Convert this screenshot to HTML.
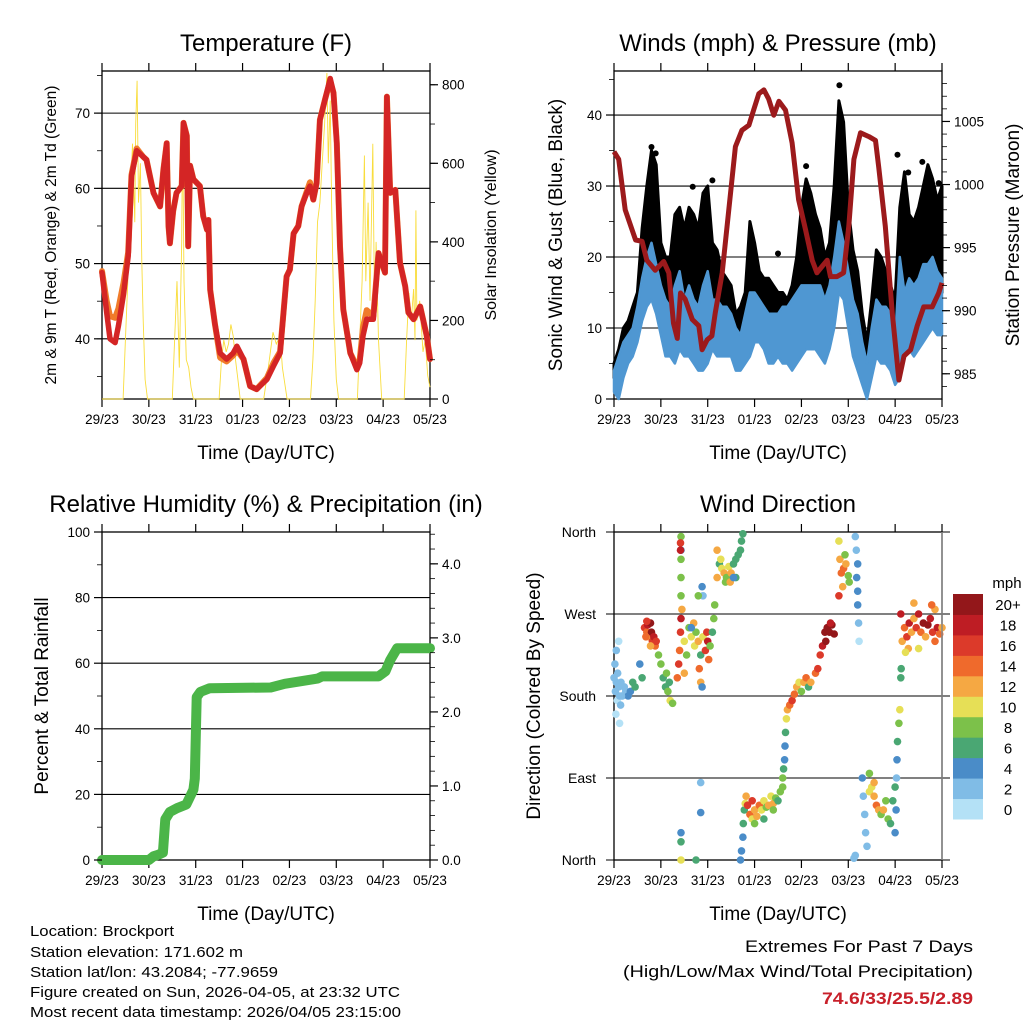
<!DOCTYPE html>
<html><head><meta charset="utf-8"><style>
html,body{margin:0;padding:0;background:#fff;}
svg{display:block;font-family:"Liberation Sans",sans-serif;}
</style></head><body>
<svg id="chart" width="1024" height="1024" viewBox="0 0 1024 1024" xmlns="http://www.w3.org/2000/svg">
<rect width="1024" height="1024" fill="#fff"/>
<g id="layer"></g>
<text x="30" y="936" font-size="15" textLength="144" lengthAdjust="spacingAndGlyphs">Location: Brockport</text>
<text x="30" y="957" font-size="15" textLength="213" lengthAdjust="spacingAndGlyphs">Station elevation: 171.602 m</text>
<text x="30" y="977" font-size="15" textLength="248" lengthAdjust="spacingAndGlyphs">Station lat/lon: 43.2084; -77.9659</text>
<text x="30" y="997" font-size="15" textLength="370" lengthAdjust="spacingAndGlyphs">Figure created on Sun, 2026-04-05, at 23:32 UTC</text>
<text x="30" y="1017" font-size="15" textLength="371" lengthAdjust="spacingAndGlyphs">Most recent data timestamp: 2026/04/05 23:15:00</text>
<text x="745" y="952" font-size="17" textLength="228" lengthAdjust="spacingAndGlyphs">Extremes For Past 7 Days</text>
<text x="623" y="977" font-size="17" textLength="350" lengthAdjust="spacingAndGlyphs">(High/Low/Max Wind/Total Precipitation)</text>
<text x="822" y="1004" font-size="17" font-weight="bold" fill="#c8202a" textLength="151" lengthAdjust="spacingAndGlyphs">74.6/33/25.5/2.89</text>
</svg>
<script>
// ---------- data ----------
const dayLabels=["29/23","30/23","31/23","01/23","02/23","03/23","04/23","05/23"];
const tempT=[0,0.1,0.17,0.28,0.35,0.46,0.56,0.63,0.74,0.88,0.95,1.1,1.24,1.31,1.38,1.42,1.45,1.52,1.59,1.7,1.74,1.81,1.84,1.88,1.95,2.09,2.16,2.24,2.27,2.31,2.41,2.52,2.66,2.8,2.88,3.02,3.16,3.3,3.52,3.66,3.8,3.94,4.01,4.09,4.19,4.26,4.37,4.44,4.51,4.58,4.65,4.76,4.87,4.94,5.01,5.08,5.15,5.3,5.44,5.5,5.57,5.65,5.79,5.9,6.04,6.08,6.15,6.26,6.36,6.47,6.54,6.65,6.79,6.93,7.0];
const temp2m=[48.8,43.5,40,39.5,41.7,46,51,61.6,65,64.2,63.8,59.4,57.6,62.5,66,55,52.7,57,59.4,60.3,68.7,67,52.3,63,61.2,60.3,56.3,54.5,55.8,46.5,42,38.1,37.3,38.1,39,37.3,33.7,33.3,34.6,36.4,38.1,48.3,49.2,54,55,57.6,59.4,60.3,58.5,60.7,69.1,71.8,74.6,72.7,66,52.3,43.9,38.1,35.9,36.8,40.4,42.6,42.6,51.4,48.8,72.2,59.4,59.8,50.1,47,43.5,42.6,44.3,40.4,37.3];
const temp9m=[49,45,43,42.8,44,47.5,51.5,61.8,65.3,64.2,63.8,59.4,57.6,62.5,66,55,52.7,57,59.4,60.3,68.7,67,52.3,63,61.2,60.3,56.3,54.5,55.8,46.5,42,37.5,37,37.8,38.5,37.3,33.7,33.3,34.8,36.8,38.3,48.3,49.2,54,55,57.6,59.6,60.8,58.5,60.7,69.1,71.8,74.3,72.7,66,52.3,43.9,38.1,36.3,37.2,41.5,43.8,43,51.4,48.8,72.2,59.4,59.8,50.1,47,43.5,42.6,44.3,40.4,37.3];
const solarT=[0,0.45,0.5,0.55,0.6,0.65,0.7,0.72,0.75,0.78,0.82,0.85,0.88,0.92,0.97,1.5,1.55,1.6,1.65,1.7,1.72,1.75,1.8,1.85,1.9,1.95,2.5,2.55,2.6,2.65,2.7,2.75,2.8,2.85,2.9,2.95,3.45,3.55,3.65,3.72,3.8,3.85,3.95,4.45,4.5,4.55,4.6,4.65,4.7,4.75,4.8,4.83,4.87,4.9,4.95,5.0,5.05,5.45,5.5,5.55,5.6,5.63,5.68,5.72,5.78,5.82,5.85,5.9,5.97,6.45,6.5,6.55,6.6,6.65,6.68,6.7,6.72,6.78,6.85,6.9,6.95,7.0];
const solar=[0,0,150,300,500,650,450,700,810,500,600,350,200,50,0,0,150,300,80,400,700,300,100,80,30,0,0,100,150,120,140,190,160,100,50,0,0,80,170,140,160,80,0,0,100,250,450,500,600,700,830,600,760,500,200,50,0,0,150,300,620,300,500,250,650,200,400,150,0,0,150,270,200,280,150,480,200,250,120,150,60,30];
const windT=[0,0.1,0.2,0.3,0.4,0.5,0.6,0.7,0.8,0.9,1.0,1.1,1.2,1.3,1.4,1.5,1.6,1.7,1.8,1.9,2.0,2.1,2.2,2.3,2.4,2.5,2.6,2.7,2.8,2.9,3.0,3.1,3.2,3.3,3.4,3.5,3.6,3.7,3.8,3.9,4.0,4.1,4.2,4.3,4.4,4.5,4.6,4.7,4.8,4.9,5.0,5.1,5.2,5.3,5.4,5.5,5.6,5.7,5.8,5.9,6.0,6.1,6.2,6.3,6.4,6.5,6.6,6.7,6.8,6.9,7.0];
const windLo=[1,0,3,5,6,8,11,13,14,12,9,6,6,5,7,6,6,5,4,4,5,7,6,6,6,6,4,4,5,6,8,8,7,5,5,6,5,5,4,5,6,7,7,7,6,5,7,10,15,14,10,6,4,2,0,3,6,5,5,4,2,3,6,7,6,7,8,9,10,9,9];
const windHi=[4,6,8,9,10,13,17,20,22,19,16,14,13,16,18,14,16,14,13,16,18,14,14,13,13,12,10,9,12,15,15,14,13,12,12,12,13,13,14,15,16,16,16,16,16,14,16,20,25,22,18,14,12,8,5,10,14,13,13,12,8,20,15,17,16,17,19,19,20,18,17];
const gustLo=[3,4,6,7,8,10,15,17,20,17,13,10,11,13,14,12,13,12,10,12,13,12,11,10,10,8,7,6,8,10,12,11,10,9,9,10,10,10,10,11,12,14,15,14,12,11,14,18,21,18,13,10,7,4,2,7,10,10,10,8,5,8,13,14,13,14,15,17,17,16,15];
const gustHi=[5,7,10,11,13,15,24,30,35,33,22,20,20,26,27,24,27,26,24,29,30,22,21,18,17,16,12,13,15,25,22,18,17,17,16,15,15,14,16,20,27,31,29,26,24,20,22,30,42,39,27,21,18,12,8,14,21,20,18,16,14,27,32,26,25,27,30,33,31,28,30];
const gustOutT=[0.8,0.89,1.68,2.1,3.5,4.1,4.81,6.05,6.28,6.58,6.93];
const gustOut=[35.5,34.6,29.9,30.8,20.5,32.8,44.2,34.4,31.9,33.4,30.4];
const presT=[0,0.1,0.24,0.46,0.6,0.7,0.88,1.06,1.17,1.27,1.35,1.42,1.52,1.67,1.81,1.88,1.99,2.09,2.16,2.31,2.45,2.59,2.73,2.88,2.98,3.09,3.2,3.3,3.41,3.52,3.66,3.8,3.94,4.09,4.23,4.33,4.44,4.55,4.62,4.76,4.9,5.01,5.12,5.26,5.44,5.58,5.65,5.79,5.94,6.08,6.19,6.33,6.47,6.61,6.79,6.93,7.0];
const pres=[1002.6,1002,998,995.6,995.5,994,993.2,993.9,993,989,987.8,991.4,990.9,989.3,988.8,986.9,987.7,988,989.8,993,998,1003,1004.3,1004.7,1005.9,1007.2,1007.5,1006.8,1005.5,1006.6,1005.9,1003.3,998.8,996.4,994,993,993.5,994,992.7,992.7,993,996.7,1002,1004.1,1003.8,1003.5,1001.4,996.7,989.8,984.5,986.4,986.9,988.8,990.3,990.3,991.4,992.2];
const rainT=[0,1.0,1.1,1.2,1.3,1.35,1.45,1.6,1.8,1.95,1.98,2.02,2.1,2.3,3.6,3.9,4.3,4.6,4.7,5.9,6.05,6.15,6.3,7.0];
const rain=[0,0,0.05,0.07,0.1,0.55,0.65,0.7,0.75,0.95,1.1,2.2,2.27,2.32,2.33,2.38,2.42,2.45,2.48,2.48,2.55,2.7,2.86,2.86];
const dirT=[0,0.02,0.03,0.05,0.07,0.08,0.1,0.12,0.12,0.15,0.18,0.22,0.25,0.3,0.35,0.4,0.45,0.55,0.6,0.04,0.1,0.16,0.05,0.14,
0.65,0.7,0.72,0.75,0.78,0.8,0.82,0.85,0.88,0.9,0.78,0.7,0.68,0.95,1.0,1.05,1.1,1.15,1.2,1.25,1.18,1.12,
1.35,1.38,1.4,1.42,1.43,1.45,1.43,1.43,1.43,1.43,1.43,1.42,1.42,1.43,1.43,1.43,1.5,1.55,1.5,
1.6,1.65,1.7,1.72,1.75,1.8,1.82,1.85,1.88,1.85,1.9,1.95,1.98,2.0,2.02,2.05,2.1,2.13,1.88,1.9,1.8,1.85,1.85,1.75,1.65,
2.15,2.2,2.25,2.3,2.35,2.4,2.45,2.5,2.55,2.6,2.65,2.7,2.72,2.75,2.28,2.38,2.48,2.6,2.2,2.55,
2.7,2.72,2.75,2.76,2.78,2.8,2.82,2.85,2.9,2.95,3.0,3.05,3.1,3.15,3.2,3.25,3.3,3.35,3.4,3.45,3.5,3.55,3.6,3.0,3.2,3.4,2.95,
3.6,3.62,3.64,3.65,3.66,3.68,3.7,3.75,3.8,3.85,3.9,3.95,4.0,4.05,4.1,4.15,4.2,4.3,4.35,4.4,4.45,4.5,4.55,4.6,4.65,4.7,4.52,4.62,
4.8,4.82,4.85,4.9,4.95,5.0,5.02,4.88,4.8,4.93,5.15,5.17,5.2,5.18,5.2,5.2,5.22,5.23,5.15,5.12,
5.3,5.32,5.35,5.37,5.4,5.45,5.5,5.55,5.6,5.65,5.7,5.75,5.8,5.85,5.9,5.95,6.0,5.55,5.45,6.0,6.02,6.03,6.04,6.05,6.08,6.1,
6.12,6.13,6.15,6.2,6.25,6.3,6.35,6.4,6.45,6.5,6.55,6.6,6.65,6.7,6.75,6.8,6.85,6.9,6.95,7.0,6.85,6.78,6.5,6.28,6.12,6.4,6.22];
const dirDeg=[200,215,185,195,175,205,190,180,150,195,180,190,185,180,185,195,190,215,200,160,240,180,230,170,
255,250,258,245,260,250,240,245,235,240,235,262,245,225,215,200,190,185,175,172,195,205,
200,215,230,250,265,275,290,310,330,340,355,348,340,20,30,0,240,225,205,
255,245,260,235,250,240,210,195,190,225,245,230,250,240,220,235,250,265,300,290,290,85,52,0,255,
280,310,325,320,315,310,322,315,325,330,335,340,350,358,330,305,305,310,340,310,
0,10,25,40,55,62,70,60,50,45,55,48,60,55,65,58,60,70,62,68,65,75,80,40,45,55,65,
90,100,110,125,140,155,165,170,175,182,190,195,185,195,200,190,195,205,210,225,235,250,255,250,258,248,240,260,
350,330,315,320,325,312,305,300,290,335,355,340,325,310,295,280,260,240,5,2,
90,70,50,30,15,75,80,70,60,55,50,55,65,45,40,65,80,85,95,30,55,90,110,130,150,165,
200,210,240,255,245,260,250,265,255,270,250,260,245,258,265,250,240,255,248,255,275,280,232,232,270,282,228];
const dirSpd=[2,2,2,2,1,2,2,2,1,3,3,3,3,4,5,6,6,5,6,1,1,3,2,2,
16,14,18,12,20,20,16,18,14,16,12,16,14,8,8,7,6,8,10,9,6,8,
14,16,14,16,18,12,8,8,8,4,8,16,18,6,4,10,10,8,12,
8,10,12,10,8,12,14,12,4,6,10,16,16,18,14,8,6,8,4,2,8,2,4,6,4,
8,12,6,10,12,8,10,12,6,6,6,6,6,6,10,8,12,6,12,4,
4,4,4,6,6,10,12,16,14,10,12,12,14,10,10,8,12,10,12,8,6,8,8,8,6,8,16,
8,6,4,4,6,10,12,14,16,14,12,10,8,12,14,6,12,14,16,16,18,20,20,20,20,20,20,18,
10,12,14,14,12,8,8,12,16,8,2,2,4,4,4,4,2,1,2,2,
4,2,2,2,2,10,10,12,14,12,8,12,8,8,6,6,6,12,8,4,4,2,4,6,8,10,
6,6,12,14,16,18,12,12,16,18,14,20,12,20,18,16,14,18,14,12,12,14,10,12,18,12,10];
const speedColors=["#b4e1f6","#80bce6","#4a8cc8","#4aa773","#7cc14a","#e6df56","#f5a843","#ef6a2c","#dc3a2a","#be1d24","#93171a"];
const speedLabels=["0","2","4","6","8","10","12","14","16","18","20+"];
const tempTicks=[40,50,60,70], solarTicks=[0,200,400,600,800];
const windTicks=[0,10,20,30,40], presTicks=[985,990,995,1000,1005];
const rhTicks=[0,20,40,60,80,100], rainTicks=[0,1,2,3,4];
const dirTicks=[0,90,180,270,360], dirNames=["North","East","South","West","North"];

// ---------- helpers ----------
const NS="http://www.w3.org/2000/svg";
const layer=document.getElementById('layer');
function mk(tag,attrs,parent){const e=document.createElementNS(NS,tag);for(const k in attrs)e.setAttribute(k,attrs[k]);(parent||layer).appendChild(e);return e;}
function lin(d0,d1,r0,r1){return v=>r0+(v-d0)*(r1-r0)/(d1-d0);}
function pathOf(xs,ys,fx,fy){return xs.map((t,i)=>(i?'L':'M')+fx(t).toFixed(1)+','+fy(ys[i]).toFixed(1)).join('');}
function txt(x,y,s,size,anchor,extra){const e=mk('text',Object.assign({x:x,y:y,'font-size':size,'text-anchor':anchor||'middle'},extra||{}));e.textContent=s;return e;}

function panel(P){
  const g=mk('g',{});
  
  
  const fx=lin(0,7,P.x0,P.x1);
  P.grid.forEach(v=>{const y=P.fy(v);const l=mk('line',{x1:P.gx0||P.x0,x2:P.gx1||P.x1,y1:y,y2:y,stroke:'#000','stroke-width':1.1},g);
    });
  mk('rect',{x:P.x0,y:P.y0,width:P.x1-P.x0,height:P.y1-P.y0,fill:'none',stroke:'#000','stroke-width':1.3},g);
  dayLabels.forEach((s,i)=>{const x=fx(i);
    mk('line',{x1:x,x2:x,y1:P.y1,y2:P.y1+8,stroke:'#000','stroke-width':1.2},g);
    mk('line',{x1:x,x2:x,y1:P.y0-8,y2:P.y0,stroke:'#000','stroke-width':1.2},g);
    const t=txt(x,P.y1+25,s,13.5);});
  const xt=txt((P.x0+P.x1)/2,P.y1+60,'Time (Day/UTC)',19);
  
  const tt=txt((P.x0+P.x1)/2,P.y0-20,P.title,24);
  
  return {g,fx};
}
function yTicks(g,P,fy,ticks,labels,side,minors){
  const x=side==='l'?P.x0:P.x1, d=side==='l'?-1:1;
  (minors||[]).forEach(v=>mk('line',{x1:x,x2:x+d*5,y1:fy(v),y2:fy(v),stroke:'#000','stroke-width':0.8},g));
  ticks.forEach((v,i)=>{const y=fy(v);
    mk('line',{x1:x,x2:x+d*8,y1:y,y2:y,stroke:'#000','stroke-width':1.2},g);
    const t=txt(x+d*12,y+5,labels[i],13.5,side==='l'?'end':'start');
    });
}
function ytitle(x,y,s,size,name){const t=txt(0,0,s,size,'middle',{transform:`translate(${x},${y}) rotate(-90)`});
  }
function range(a,b,s){const r=[];for(let v=a;v<=b+1e-9;v+=s)r.push(+v.toFixed(3));return r;}

// ---------- Panel 1: Temperature ----------
(function(){
  const P={name:'temperature-panel',title:'Temperature (F)',x0:102,x1:430,y0:71,y1:399,grid:tempTicks};
  const fy=lin(32,75.6,399,71), fs=lin(0,835,399,71); P.fy=fy;
  const {g,fx}=panel(P);
  const sol=mk('path',{d:pathOf(solarT,solar,fx,fs),fill:'none',stroke:'#f9dd3c','stroke-width':0.9},g);
  
  const o=mk('path',{d:pathOf(tempT,temp9m,fx,fy),fill:'none',stroke:'#f07b2a','stroke-width':6,'stroke-linejoin':'round','stroke-linecap':'round'},g);
  
  const r=mk('path',{d:pathOf(tempT,temp2m,fx,fy),fill:'none',stroke:'#d42525','stroke-width':5.5,'stroke-linejoin':'round','stroke-linecap':'round'},g);
  
  yTicks(g,P,fy,tempTicks,tempTicks.map(String),'l',range(35,75,5));
  yTicks(g,P,fs,solarTicks,solarTicks.map(String),'r',range(0,800,100));
  ytitle(56,235,'2m & 9m T (Red, Orange) & 2m Td (Green)',15.5,'y-axis-title-left');
  ytitle(496,235,'Solar Insolation (Yellow)',16,'y-axis-title-right');
})();

// ---------- Panel 2: Winds ----------
(function(){
  const P={name:'winds-panel',title:'Winds (mph) & Pressure (mb)',x0:614,x1:942,y0:71,y1:399,grid:[10,20,30,40]};
  const fy=lin(0,46.2,399,71), fp=lin(983,1009,399,71); P.fy=fy;
  const {g,fx}=panel(P);
  const band=(lo,hi)=>pathOf(windT,hi,fx,fy)+pathOf(windT.slice().reverse(),lo.slice().reverse(),fx,fy).replace('M','L')+'Z';
  const gb=mk('path',{d:band(gustLo,gustHi),fill:'#000',stroke:'#000','stroke-width':3,'stroke-linejoin':'round'},g);
  
  gustOutT.forEach((t,i)=>{const c=mk('circle',{cx:fx(t),cy:fy(gustOut[i]),r:3,fill:'#000'},g);
    });
  const wb=mk('path',{d:band(windLo,windHi),fill:'#4f97d2',stroke:'#4f97d2','stroke-width':2.5,'stroke-linejoin':'round'},g);
  
  const p=mk('path',{d:pathOf(presT,pres,fx,fp),fill:'none',stroke:'#9c1a1c','stroke-width':5,'stroke-linejoin':'round'},g);
  
  yTicks(g,P,fy,windTicks,windTicks.map(String),'l',range(5,45,5));
  yTicks(g,P,fp,presTicks,presTicks.map(String),'r',range(984,1008,1));
  ytitle(562,235,'Sonic Wind & Gust (Blue, Black)',19,'y-axis-title-left');
  ytitle(1019,235,'Station Pressure (Maroon)',19,'y-axis-title-right');
})();

// ---------- Panel 3: RH & Precip ----------
(function(){
  const P={name:'humidity-precip-panel',title:'Relative Humidity (%) & Precipitation (in)',x0:102,x1:430,y0:532,y1:860,grid:[20,40,60,80]};
  const fy=lin(0,100,860,532), fr=lin(0,4.43,860,532); P.fy=fy;
  const {g,fx}=panel(P);
  const r=mk('path',{d:pathOf(rainT,rain,fx,fr),fill:'none',stroke:'#4bb548','stroke-width':10,'stroke-linejoin':'round','stroke-linecap':'round'},g);
  
  yTicks(g,P,fy,rhTicks,rhTicks.map(String),'l',range(10,90,20));
  yTicks(g,P,fr,rainTicks,rainTicks.map(v=>v.toFixed(1)),'r',range(0.2,4.4,0.2));
  ytitle(48,696,'Percent & Total Rainfall',19,'y-axis-title-left');
})();

// ---------- Panel 4: Wind direction ----------
(function(){
  const P={name:'wind-direction-panel',title:'Wind Direction',x0:614,x1:942,y0:532,y1:860,grid:dirTicks,gx0:606,gx1:950};
  const fy=lin(0,360,860,532); P.fy=fy;
  const {g,fx}=panel(P);
  dirT.forEach((t,i)=>{const bin=Math.min(10,Math.floor(dirSpd[i]/2));
    const c=mk('circle',{cx:fx(t).toFixed(1),cy:fy(dirDeg[i]).toFixed(1),r:3.8,fill:speedColors[bin]},g);
    });
  mk('line',{x1:942,x2:942,y1:532,y2:860,stroke:'#888','stroke-width':1.5},g);
  dirTicks.forEach((v,i)=>{const y=fy(v);mk('line',{x1:606,x2:614,y1:y,y2:y,stroke:'#000'},g);
    const t=txt(596,y+5,dirNames[i],14,'end');});
  ytitle(540,696,'Direction (Colored By Speed)',19,'y-axis-title-left');
  const cb=mk('g',{});
  
  const h=(819-594)/11;
  speedColors.forEach((c,i)=>{const y=819-(i+1)*h;
    mk('rect',{x:953,y:y,width:30,height:h+0.5,fill:c},cb);
    const t=txt(1008,y+h/2+6,speedLabels[i],15,'middle');});
  const m=txt(1007,588,'mph',15,'middle');
})();
</script>
</body></html>
